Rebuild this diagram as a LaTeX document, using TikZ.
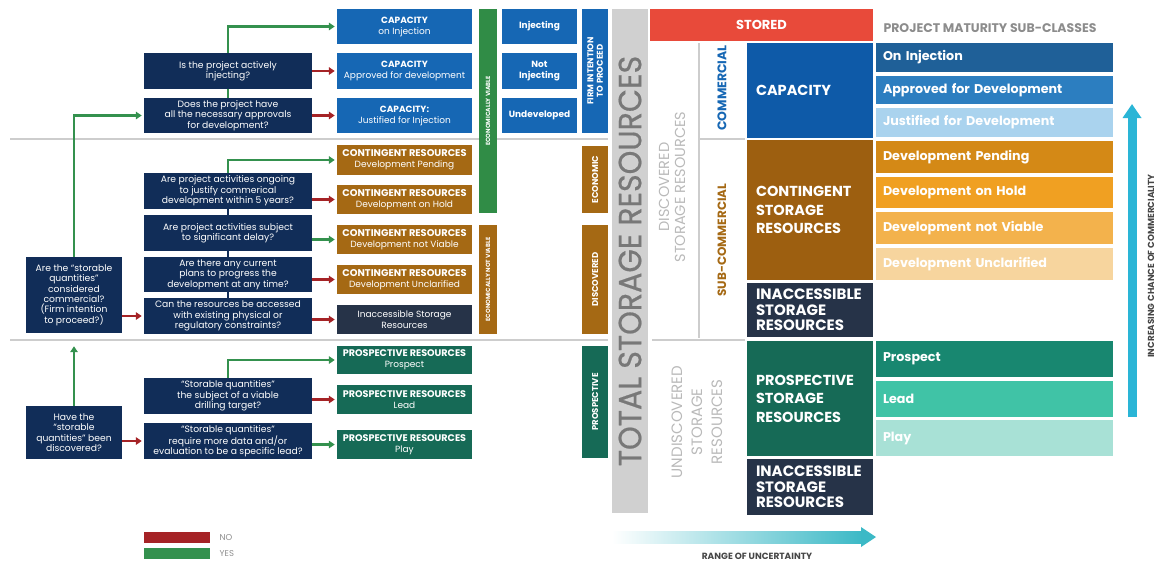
\documentclass[tikz,border=0pt]{standalone}
\usepackage{fontspec}
\setmainfont{Poppins}
\usepackage{graphicx}
\usepackage{tikz}
\usetikzlibrary{arrows.meta,positioning}
\definecolor{qnavy}{RGB}{17,45,88}
\definecolor{capblue}{RGB}{22,103,180}
\definecolor{bigblue}{RGB}{14,90,168}
\definecolor{congold}{RGB}{165,105,20}
\definecolor{biggold}{RGB}{157,95,16}
\definecolor{slate}{RGB}{38,51,72}
\definecolor{progreen}{RGB}{22,106,86}
\definecolor{vialgreen}{RGB}{48,140,70}
\definecolor{yesgreen}{RGB}{52,145,78}
\definecolor{nored}{RGB}{165,35,38}
\definecolor{divgray}{RGB}{205,205,205}
\definecolor{totgray}{RGB}{208,208,208}
\definecolor{tottext}{RGB}{120,120,120}
\definecolor{storedred}{RGB}{232,74,58}
\definecolor{titlegray}{RGB}{140,140,140}
\definecolor{palegray}{RGB}{185,185,185}
\definecolor{injblue}{RGB}{31,96,152}
\definecolor{appblue}{RGB}{44,126,192}
\definecolor{jusblue}{RGB}{170,211,238}
\definecolor{pendorg}{RGB}{212,137,22}
\definecolor{holdorg}{RGB}{240,160,34}
\definecolor{notorg}{RGB}{243,178,76}
\definecolor{uncorg}{RGB}{247,213,158}
\definecolor{prospgrn}{RGB}{24,135,112}
\definecolor{leadgrn}{RGB}{64,195,166}
\definecolor{playgrn}{RGB}{168,225,214}
\definecolor{chanteal}{RGB}{42,181,214}
\definecolor{rangeteal}{RGB}{60,185,198}
\definecolor{textdark}{RGB}{70,70,70}

\begin{document}
\begin{tikzpicture}[
  x=1pt,y=-1pt,
  qbox/.style={fill=qnavy,text=white,minimum width=168pt,inner sep=1pt,
    align=center,font=\fontsize{9.2}{10.4}\selectfont},
  resbox/.style={minimum width=135pt,text=white,inner sep=1pt,align=center,
    font=\fontsize{9}{11}\selectfont},
  capres/.style={resbox,fill=capblue},
  conres/.style={resbox,fill=congold},
  prores/.style={resbox,fill=progreen},
  hd/.style={font=\bfseries\fontsize{9.8}{11}\selectfont},
  statbox/.style={fill=capblue,text=white,minimum width=75pt,inner sep=1pt,
    align=center,font=\bfseries\fontsize{9}{11}\selectfont},
  vbar/.style={rotate=90,text=white,inner sep=0pt,align=center,
    font=\bfseries\fontsize{6}{7}\selectfont},
  sidebar/.style={vbar,minimum height=26pt,font=\bfseries\fontsize{8.5}{9.5}\selectfont},
  bigbox/.style={text=white,minimum width=126pt,text width=108pt,inner xsep=9pt,
    align=left,font=\bfseries\fontsize{14.5}{18.5}\selectfont},
  subbar/.style={text=white,minimum width=237pt,text width=223pt,inner xsep=7pt,
    align=left,font=\bfseries\fontsize{12.7}{14}\selectfont},
  legbox/.style={minimum width=66pt,minimum height=11pt,inner sep=0pt},
  yesarrow/.style={draw=yesgreen,line width=2.2pt,
    -{Triangle[length=6pt,width=7.5pt]},shorten >=2pt},
  noarrow/.style={draw=nored,line width=2.2pt,
    -{Triangle[length=6pt,width=7.5pt]},shorten >=2pt},
  link/.style={draw=qnavy,line width=2pt},
  divider/.style={draw=divgray,line width=2pt}
]
  \useasboundingbox (0,0) rectangle (1160,565);

  \draw[divider] (10,139) -- (608,139);
  \draw[divider] (10,340) -- (608,340);

  \node[qbox,minimum height=36pt] (q1) at (228,71)
    {Is the project actively\\injecting?};
  \node[qbox,minimum height=35pt] (q2) at (228,115.5)
    {Does the project have\\all the necessary approvals\\for development?};
  \node[qbox,minimum height=36pt] (q3) at (228,191)
    {Are project activities ongoing\\to justify commerical\\development within 5 years?};
  \node[qbox,minimum height=36pt] (q4) at (228,233)
    {Are project activities subject\\to significant delay?};
  \node[qbox,minimum height=35pt] (q5) at (228,274.5)
    {Are there any current\\plans to progress the\\development at any time?};
  \node[qbox,minimum height=36pt] (q6) at (228,316)
    {Can the resources be accessed\\with existing physical or\\regulatory constraints?};
  \node[qbox,minimum height=36pt] (q7) at (228,396)
    {“Storable quantities”\\the subject of a viable\\drilling target?};
  \node[qbox,minimum height=36pt] (q8) at (228,441)
    {“Storable quantities”\\require more data and/or\\evaluation to be a specific lead?};
  \node[qbox,minimum width=96pt,minimum height=76pt] (commq) at (74,295)
    {Are the “storable\\quantities”\\considered\\commercial?\\(Firm intention\\to proceed?)};
  \node[qbox,minimum width=96pt,minimum height=53pt] (discq) at (74,432.5)
    {Have the\\“storable\\quantities” been\\discovered?};

  \node[capres,minimum height=35pt] (capinj) at (404.5,26.5)
    {{\bfseries CAPACITY}\\on Injection};
  \node[capres,minimum height=36pt] (capapp) at (404.5,71)
    {{\bfseries CAPACITY}\\Approved for development};
  \node[capres,minimum height=35pt] (capjus) at (404.5,115.5)
    {{\bfseries CAPACITY:}\\Justified for Injection};
  \node[conres,minimum height=30pt] (cpend) at (404.5,160)
    {{\bfseries\fontsize{9.8}{11}\selectfont CONTINGENT RESOURCES}\\Development Pending};
  \node[conres,minimum height=29pt] (chold) at (404.5,199.5)
    {{\bfseries\fontsize{9.8}{11}\selectfont CONTINGENT RESOURCES}\\Development on Hold};
  \node[conres,minimum height=29pt] (cnot) at (404.5,239.5)
    {{\bfseries\fontsize{9.8}{11}\selectfont CONTINGENT RESOURCES}\\Development not Viable};
  \node[conres,minimum height=29pt] (cuncl) at (404.5,279.5)
    {{\bfseries\fontsize{9.8}{11}\selectfont CONTINGENT RESOURCES}\\Development Unclarified};
  \node[resbox,fill=slate,minimum height=29pt] (inacc) at (404.5,319.5)
    {Inaccessible Storage\\Resources};
  \node[prores,minimum height=28pt] (pprosp) at (404.5,360)
    {{\bfseries\fontsize{9.6}{11}\selectfont PROSPECTIVE RESOURCES}\\Prospect};
  \node[prores,minimum height=29pt] (plead) at (404.5,399.5)
    {{\bfseries\fontsize{9.6}{11}\selectfont PROSPECTIVE RESOURCES}\\Lead};
  \node[prores,minimum height=29pt] (pplay) at (404.5,444.5)
    {{\bfseries\fontsize{9.6}{11}\selectfont PROSPECTIVE RESOURCES}\\Play};

  \node[vbar,fill=vialgreen,minimum width=204pt,minimum height=18pt] (ecov)
    at (488,111) {ECONOMICALLY VIABLE};
  \node[vbar,fill=congold,minimum width=109pt,minimum height=18pt] (econv)
    at (488,279.5) {ECONOMICALLY NOT VIABLE};

  \node[statbox,minimum height=35pt] (injecting) at (539.5,26.5) {Injecting};
  \node[statbox,minimum height=36pt] (notinj) at (539.5,71) {Not\\Injecting};
  \node[statbox,minimum height=35pt] (undev) at (539.5,115.5) {Undeveloped};

  \node[sidebar,fill=capblue,minimum width=124pt] (firm) at (595,71)
    {FIRM INTENTION\\TO PROCEED};
  \node[sidebar,fill=congold,minimum width=67pt] (economic) at (595,179.5)
    {ECONOMIC};
  \node[sidebar,fill=congold,minimum width=109pt] (discov) at (595,279.5)
    {DISCOVERED};
  \node[sidebar,fill=progreen,minimum width=112pt] (prospective) at (595,402)
    {PROSPECTIVE};

  \draw[yesarrow] (q1.north) |- (capinj.west);
  \draw[yesgreen,line width=2pt] (q2.north) -- (q1.south);
  \draw[noarrow] (q1.east) -- (capapp.west);
  \draw[noarrow] (q2.east) -- (capjus.west);
  \draw[yesarrow] (commq.north) |- (q2.west);
  \draw[noarrow] (commq.east |- q6.west) -- (q6.west);
  \draw[yesarrow] (q3.north) |- (cpend.west);
  \draw[noarrow] (q3.east |- chold.west) -- (chold.west);
  \draw[yesarrow] (q4.east |- cnot.west) -- (cnot.west);
  \draw[noarrow] (q5.east |- cuncl.west) -- (cuncl.west);
  \draw[noarrow] (q6.east |- inacc.west) -- (inacc.west);
  \foreach \a/\b in {q3/q4,q4/q5,q5/q6} {
    \draw[link] (\a.south) -- (\b.north);
  }
  \draw[yesarrow,shorten >=13pt] (discq.north) -- (commq.south);
  \draw[noarrow] (discq.east |- q8.west) -- (q8.west);
  \draw[yesarrow] (q7.north) |- (pprosp.west);
  \draw[noarrow] (q7.east |- plead.west) -- (plead.west);
  \draw[yesarrow] (q8.east |- pplay.west) -- (pplay.west);

  \node[legbox,fill=nored] (legno) at (177,537.5) {};
  \node[legbox,fill=yesgreen] (legyes) at (177,553.5) {};
  \node[right=6pt of legno,text=titlegray,font=\fontsize{8.5}{9}\selectfont] {NO};
  \node[right=6pt of legyes,text=titlegray,font=\fontsize{8.5}{9}\selectfont] {YES};

  \node[rotate=90,fill=totgray,minimum width=504pt,minimum height=36pt,inner sep=0pt,
    text=tottext,font=\fontsize{32}{32}\selectfont] (total) at (630,261)
    {\addfontfeature{FakeBold=0.6}\scalebox{0.94}[1]{TOTAL STORAGE RESOURCES}};

  \node[fill=storedred,text=white,minimum width=223pt,minimum height=32pt,
    font=\bfseries\fontsize{13}{15}\selectfont] (stored) at (761.5,25) {STORED};
  \node[anchor=west,text=titlegray,font=\bfseries\fontsize{12.5}{14}\selectfont]
    (mattitle) at (880,28) {PROJECT MATURITY SUB-CLASSES};

  \draw[divider] (699,43) -- (699,338);
  \draw[divider] (699,139) -- (745,139);
  \draw[divider] (652,340) -- (745,340);

  \node[rotate=90,text=palegray,align=center,
    font=\fontsize{14.5}{16}\selectfont] (disctext) at (672,187)
    {DISCOVERED\\STORAGE RESOURCES};
  \node[rotate=90,text=capblue,font=\bfseries\fontsize{12.5}{14}\selectfont]
    (commtext) at (722,88) {COMMERCIAL};
  \node[rotate=90,text=congold,font=\bfseries\fontsize{12}{14}\selectfont]
    (subtext) at (722,240) {SUB-COMMERCIAL};
  \node[rotate=90,text=palegray,align=center,
    font=\fontsize{15}{20}\selectfont] (undisctext) at (697,422)
    {UNDISCOVERED\\STORAGE\\RESOURCES};

  \node[bigbox,fill=bigblue,minimum height=95pt] (bcap) at (810,90.5) {CAPACITY};
  \node[bigbox,fill=biggold,minimum height=140pt] (bcont) at (810,210)
    {CONTINGENT\\STORAGE\\RESOURCES};
  \node[bigbox,fill=slate,minimum height=54pt,
    font=\bfseries\fontsize{15}{15.5}\selectfont] (binacc) at (810,310)
    {INACCESSIBLE\\STORAGE\\RESOURCES};
  \node[bigbox,fill=progreen,minimum height=115pt] (bprosp) at (810,398.5)
    {PROSPECTIVE\\STORAGE\\RESOURCES};
  \node[bigbox,fill=slate,minimum height=56pt,
    font=\bfseries\fontsize{15}{15.5}\selectfont] (binaccu) at (810,487)
    {INACCESSIBLE\\STORAGE\\RESOURCES};

  \node[subbar,fill=injblue,minimum height=29pt] (sinj) at (994.5,57.5) {On Injection};
  \node[subbar,fill=appblue,minimum height=28pt] (sapp) at (994.5,90)
    {Approved for Development};
  \node[subbar,fill=jusblue,minimum height=29pt] (sjus) at (994.5,122.5)
    {Justified for Development};
  \node[subbar,fill=pendorg,minimum height=32pt] (spend) at (994.5,157)
    {Development Pending};
  \node[subbar,fill=holdorg,minimum height=31pt] (shold) at (994.5,192.5)
    {Development on Hold};
  \node[subbar,fill=notorg,minimum height=32pt] (snot) at (994.5,228)
    {Development not Viable};
  \node[subbar,fill=uncorg,minimum height=32pt] (suncl) at (994.5,264)
    {Development Unclarified};
  \node[subbar,fill=prospgrn,minimum height=36pt] (sprosp) at (994.5,359) {Prospect};
  \node[subbar,fill=leadgrn,minimum height=36pt] (slead) at (994.5,399) {Lead};
  \node[subbar,fill=playgrn,minimum height=36pt] (splay) at (994.5,438) {Play};

  \coordinate (chanlo) at (1132,417);
  \coordinate (chanhi) at (1132,104);
  \draw[chanteal,line width=9pt,-{Triangle[length=14pt,width=18pt]}]
    (chanlo) -- (chanhi);
  \node[rotate=90,text=textdark,font=\bfseries\fontsize{8.8}{10}\selectfont]
    (chantext) at (1151,266) {INCREASING CHANCE OF COMMERCIALITY};

  \shade[left color=white,right color=rangeteal] (612,531) rectangle (862,543);
  \fill[rangeteal] (861,527) -- (876,537) -- (861,547) -- cycle;
  \node[text=textdark,font=\bfseries\fontsize{9}{10}\selectfont] (rangetext)
    at (757,556) {RANGE OF UNCERTAINTY};
\end{tikzpicture}
\end{document}
